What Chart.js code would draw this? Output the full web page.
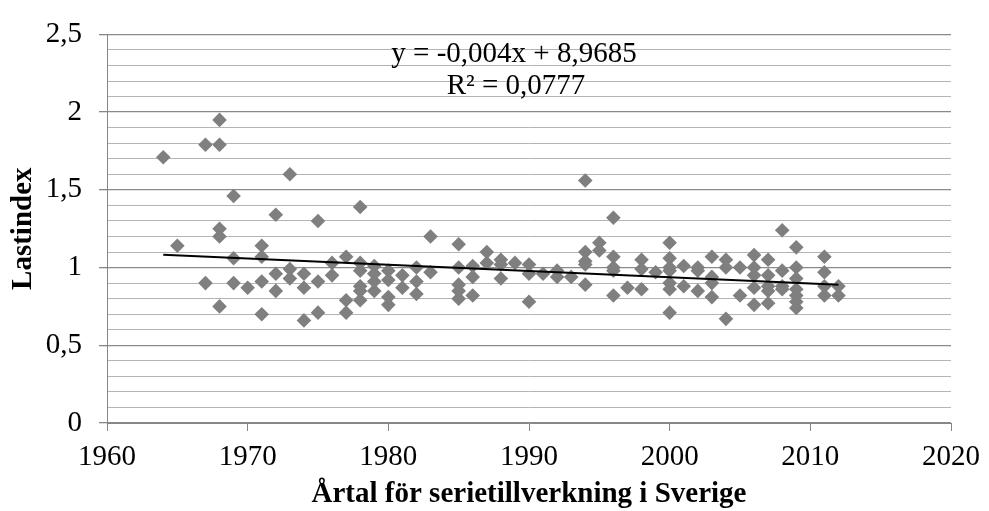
<!DOCTYPE html>
<html>
<head>
<meta charset="utf-8">
<script src="https://cdn.jsdelivr.net/npm/chart.js@4/dist/chart.umd.min.js"></script>
<style>
  html, body { margin: 0; padding: 0; background: #ffffff; }
  #wrap { width: 989px; height: 511px; }
</style>
</head>
<body>
<div id="wrap"><canvas id="c" width="989" height="511"></canvas></div>
<script>
// ---- Data ----
const years = [
  1964,
  1965,
  1967, 1967,
  1968, 1968, 1968, 1968, 1968,
  1969, 1969, 1969,
  1970,
  1971, 1971, 1971, 1971,
  1972, 1972, 1972,
  1973, 1973, 1973,
  1974, 1974, 1974,
  1975, 1975, 1975,
  1976, 1976,
  1977, 1977, 1977,
  1978, 1978, 1978, 1978, 1978, 1978,
  1979, 1979, 1979, 1979,
  1980, 1980, 1980, 1980,
  1981, 1981,
  1982, 1982, 1982,
  1983, 1983,
  1985, 1985, 1985, 1985, 1985,
  1986, 1986, 1986,
  1987, 1987,
  1988, 1988, 1988,
  1989,
  1990, 1990, 1990,
  1991,
  1992, 1992,
  1993,
  1994, 1994, 1994, 1994, 1994,
  1995, 1995,
  1996, 1996, 1996, 1996, 1996,
  1997,
  1998, 1998, 1998,
  1999,
  2000, 2000, 2000, 2000, 2000, 2000, 2000,
  2001, 2001,
  2002, 2002, 2002,
  2003, 2003, 2003, 2003,
  2004, 2004, 2004,
  2005, 2005,
  2006, 2006, 2006, 2006, 2006,
  2007, 2007, 2007, 2007, 2007,
  2008, 2008, 2008, 2008,
  2009, 2009, 2009, 2009, 2009, 2009, 2009,
  2011, 2011, 2011, 2011,
  2012, 2012
];
const lastindex = [
  1.71,
  1.14,
  1.79, 0.90,
  1.95, 1.79, 1.25, 1.20, 0.75,
  1.46, 1.06, 0.90,
  0.87,
  1.14, 1.07, 0.91, 0.70,
  1.34, 0.96, 0.85,
  1.60, 0.99, 0.93,
  0.96, 0.87, 0.66,
  1.30, 0.91, 0.71,
  1.03, 0.95,
  1.07, 0.79, 0.71,
  1.39, 1.03, 0.98, 0.88, 0.85, 0.79,
  1.01, 0.96, 0.91, 0.85,
  0.98, 0.92, 0.81, 0.76,
  0.95, 0.87,
  1.00, 0.91, 0.83,
  1.20, 0.97,
  1.15, 1.00, 0.89, 0.85, 0.80,
  1.01, 0.94, 0.82,
  1.10, 1.03,
  1.05, 1.02, 0.93,
  1.03,
  1.02, 0.96, 0.78,
  0.96,
  0.98, 0.94,
  0.94,
  1.56, 1.10, 1.04, 1.02, 0.89,
  1.16, 1.11,
  1.32, 1.07, 1.00, 0.98, 0.82,
  0.87,
  1.05, 0.99, 0.86,
  0.97,
  1.16, 1.06, 1.00, 0.98, 0.90, 0.86, 0.71,
  1.01, 0.88,
  1.00, 0.98, 0.85,
  1.07, 0.94, 0.90, 0.81,
  1.05, 1.00, 0.67,
  1.00, 0.82,
  1.08, 1.00, 0.95, 0.87, 0.76,
  1.05, 0.95, 0.88, 0.85, 0.77,
  1.24, 0.98, 0.88, 0.86,
  1.13, 1.00, 0.93, 0.86, 0.82, 0.78, 0.74,
  1.07, 0.97, 0.88, 0.82,
  0.88, 0.82
];
// Linear trendline endpoints as drawn in the reference
const trendYears = [1964, 2012];
const trendValues = [1.082, 0.889];

const xTickValues = [1960, 1970, 1980, 1990, 2000, 2010, 2020];
const yTickValues = [0, 0.5, 1, 1.5, 2, 2.5];
const yTickLabels = ['0', '0,5', '1', '1,5', '2', '2,5'];
const yMinorStep = 0.1;
const equationLines = ['y = -0,004x + 8,9685', 'R² = 0,0777'];
const xTitle = 'Årtal för serietillverkning i Sverige';
const yTitle = 'Lastindex';

// ---- Build chart ----
const SERIF = '"Liberation Serif", "Times New Roman", serif';
const scatterData = years.map((y, i) => ({ x: y, y: lastindex[i] }));
const trendData = trendYears.map((y, i) => ({ x: y, y: trendValues[i] }));

function yLabelFor(v) {
  for (let i = 0; i < yTickValues.length; i++) {
    if (Math.abs(yTickValues[i] - v) < 1e-6) return yTickLabels[i];
  }
  return null;
}
function isMajorY(v) { return yLabelFor(v) !== null; }

const equationPlugin = {
  id: 'equation',
  afterDraw(chart) {
    const ctx = chart.ctx;
    ctx.save();
    ctx.fillStyle = '#000000';
    ctx.font = '29px ' + SERIF;
    ctx.textAlign = 'center';
    ctx.textBaseline = 'alphabetic';
    ctx.fillText(equationLines[0], 514, 62);
    ctx.fillText(equationLines[1], 516, 94);
    ctx.restore();
  }
};

new Chart(document.getElementById('c'), {
  type: 'scatter',
  data: {
    datasets: [
      {
        label: 'Trend',
        data: trendData,
        showLine: true,
        borderColor: '#000000',
        borderWidth: 2,
        pointRadius: 0,
        fill: false
      },
      {
        label: 'Lastindex',
        data: scatterData,
        pointStyle: 'rectRot',
        pointRadius: 7.3,
        pointBackgroundColor: '#7f7f7f',
        pointBorderColor: '#7f7f7f',
        pointBorderWidth: 0,
        showLine: false
      }
    ]
  },
  options: {
    responsive: false,
    animation: false,
    devicePixelRatio: 1,
    layout: { padding: { top: 26, right: 31, bottom: 0, left: 0 } },
    plugins: {
      legend: { display: false },
      tooltip: { enabled: false }
    },
    scales: {
      x: {
        type: 'linear',
        min: 1960,
        max: 2020,
        afterFit(scale) { scale.height = 88; },
        afterBuildTicks(scale) { scale.ticks = xTickValues.map(v => ({ value: v })); },
        ticks: {
          autoSkip: false,
          maxTicksLimit: 100,
          maxRotation: 0,
          padding: 9,
          color: '#000000',
          font: { family: SERIF, size: 29 },
          callback: (v) => String(v)
        },
        grid: {
          drawOnChartArea: false,
          drawTicks: true,
          tickLength: 8,
          tickColor: '#868686',
          color: '#868686'
        },
        border: { color: '#868686', width: 1 },
        title: {
          display: true,
          text: xTitle,
          color: '#000000',
          font: { family: SERIF, size: 29, weight: 'bold', lineHeight: 1 },
          padding: { top: 0, bottom: 2 }
        }
      },
      y: {
        type: 'linear',
        min: 0,
        max: 2.5,
        afterFit(scale) { scale.width = 107; },
        afterBuildTicks(scale) {
          const top = yTickValues[yTickValues.length - 1];
          const n = Math.round(top / yMinorStep);
          const t = [];
          for (let i = 0; i <= n; i++) t.push({ value: Math.round(i * yMinorStep * 1000) / 1000 });
          scale.ticks = t;
        },
        ticks: {
          autoSkip: false,
          maxTicksLimit: 100,
          padding: 17,
          color: '#000000',
          font: { family: SERIF, size: 29 },
          callback: (v) => { const l = yLabelFor(v); return l === null ? '' : l; }
        },
        grid: {
          drawTicks: true,
          tickLength: 8,
          color: (c) => (c.tick && isMajorY(c.tick.value)) ? '#8a8a8a' : '#b4b4b4',
          lineWidth: (c) => (c.tick && isMajorY(c.tick.value)) ? 1.3 : 1,
          tickColor: (c) => (c.tick && isMajorY(c.tick.value)) ? '#868686' : 'rgba(0,0,0,0)'
        },
        border: { color: '#868686', width: 1 },
        title: {
          display: true,
          text: yTitle,
          color: '#000000',
          font: { family: SERIF, size: 29, weight: 'bold', lineHeight: 1 },
          padding: { top: 9.5, bottom: 0 }
        }
      }
    }
  },
  plugins: [equationPlugin]
});
</script>
</body>
</html>
